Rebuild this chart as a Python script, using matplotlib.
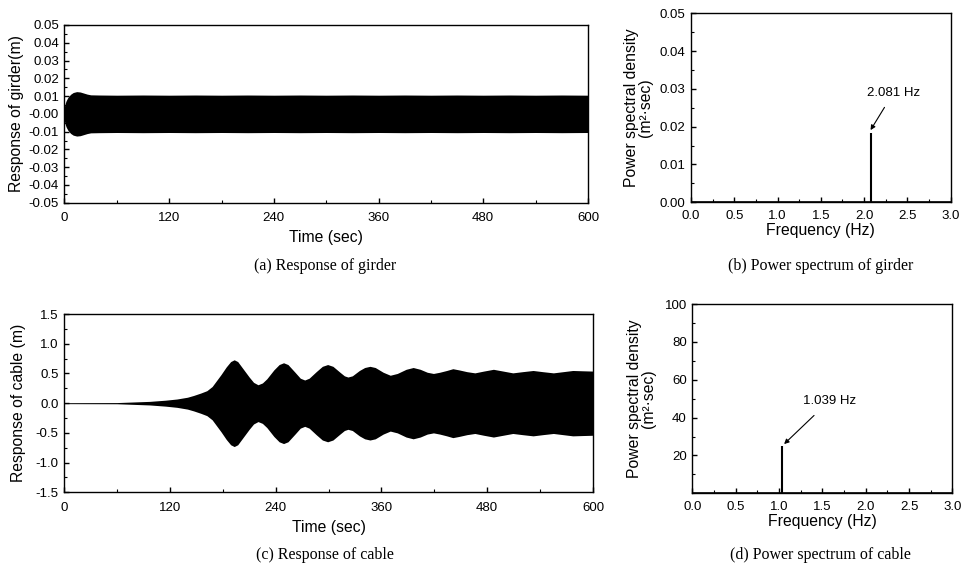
import numpy as np
import matplotlib
matplotlib.use("Agg")
import matplotlib.pyplot as plt
from matplotlib.ticker import MultipleLocator, FormatStrFormatter

plt.rcParams['font.family'] = ['Liberation Sans', 'DejaVu Sans']
plt.rcParams['axes.unicode_minus'] = False

# girder response envelope (upper edge, band is symmetric)
girder_t = [0, 1, 2, 4, 7, 10, 14, 18, 22, 26, 30, 40, 60, 90, 120, 150, 180, 210, 240,
            270, 300, 330, 360, 390, 420, 450, 480, 510, 540, 570, 600]
girder_amp = [0.0042, 0.0062, 0.0075, 0.0093, 0.0110, 0.0120, 0.0125, 0.0123, 0.0117,
              0.0111, 0.0107, 0.0106, 0.0105, 0.0106, 0.0105, 0.0106, 0.0105, 0.0106,
              0.0105, 0.0106, 0.0105, 0.0106, 0.0105, 0.0106, 0.0105, 0.0106, 0.0105,
              0.0106, 0.0105, 0.0106, 0.0105]

# cable response envelope (upper edge)
cable_t = [0, 60, 97, 115, 128, 140, 147, 155, 162, 168, 173, 178, 184, 189, 193, 197,
           203, 210, 215, 220, 225, 230, 238, 244, 249, 254, 262, 268, 273, 278, 286,
           293, 299, 305, 313, 318, 322, 327, 335, 341, 347, 353, 362, 370, 378, 388,
           396, 404, 412, 419, 426, 434, 441, 448, 457, 466, 476, 487, 498, 509, 520,
           532, 543, 555, 566, 577, 588, 600]
cable_amp = [0.008, 0.01, 0.03, 0.05, 0.07, 0.10, 0.13, 0.17, 0.21, 0.28, 0.38, 0.48,
             0.61, 0.70, 0.73, 0.70, 0.58, 0.44, 0.35, 0.31, 0.34, 0.41, 0.56, 0.65,
             0.68, 0.65, 0.52, 0.42, 0.39, 0.42, 0.53, 0.62, 0.65, 0.62, 0.52, 0.46,
             0.44, 0.46, 0.55, 0.60, 0.62, 0.60, 0.52, 0.47, 0.50, 0.57, 0.60, 0.57,
             0.52, 0.50, 0.52, 0.55, 0.58, 0.56, 0.53, 0.51, 0.54, 0.57, 0.54, 0.51,
             0.53, 0.55, 0.53, 0.51, 0.53, 0.55, 0.545, 0.54]

# spectral peaks
girder_peak_freq = 2.081
girder_peak_psd = 0.0183
cable_peak_freq = 1.039
cable_peak_psd = 25.0

time_ticks = [0, 120, 240, 360, 480, 600]
freq_ticks = [0.0, 0.5, 1.0, 1.5, 2.0, 2.5, 3.0]

TICK_FS = 9.5
LABEL_FS = 11.3

fig = plt.figure(figsize=(9.61, 5.76), dpi=100)
ax_a = fig.add_axes([0.0671, 0.6481, 0.5447, 0.3085])
ax_b = fig.add_axes([0.7190, 0.6488, 0.2702, 0.3281])
ax_c = fig.add_axes([0.0666, 0.1453, 0.5505, 0.3095])
ax_d = fig.add_axes([0.7204, 0.1436, 0.2706, 0.3286])


def style(ax, xpad):
    for s in ax.spines.values():
        s.set_linewidth(1.0)
    ax.tick_params(which='both', direction='in', top=False, right=False, labelsize=TICK_FS)
    ax.tick_params(which='major', length=3.5, width=1.0)
    ax.tick_params(which='minor', length=2, width=0.8)
    ax.tick_params(axis='y', which='major', pad=4)
    ax.tick_params(axis='x', which='major', pad=xpad)


# (a) girder response
ga = np.array(girder_amp)
ax_a.fill_between(girder_t, -ga, ga, color='black', lw=0)
ax_a.set_xlim(0, 600)
ax_a.set_ylim(-0.05, 0.05)
ax_a.set_xticks(time_ticks)
ax_a.xaxis.set_minor_locator(MultipleLocator(60))
ax_a.yaxis.set_major_locator(MultipleLocator(0.01))
ax_a.yaxis.set_minor_locator(MultipleLocator(0.005))
ax_a.yaxis.set_major_formatter(FormatStrFormatter('%.2f'))
ax_a.set_xlabel('Time (sec)', fontsize=LABEL_FS, labelpad=4)
ax_a.set_ylabel('Response of girder(m)', fontsize=LABEL_FS, labelpad=3)
style(ax_a, 7)

# (b) girder spectrum
ax_b.plot([0, 3.0], [0, 0], color='black', lw=1.2)
ax_b.vlines(girder_peak_freq, 0, girder_peak_psd, color='black', lw=1.5)
ax_b.set_xlim(0, 3.0)
ax_b.set_ylim(0, 0.05)
ax_b.set_xticks(freq_ticks)
ax_b.xaxis.set_minor_locator(MultipleLocator(0.25))
ax_b.yaxis.set_major_locator(MultipleLocator(0.01))
ax_b.yaxis.set_minor_locator(MultipleLocator(0.005))
ax_b.xaxis.set_major_formatter(FormatStrFormatter('%.1f'))
ax_b.yaxis.set_major_formatter(FormatStrFormatter('%.2f'))
ax_b.set_xlabel('Frequency (Hz)', fontsize=LABEL_FS, labelpad=0.5)
ax_b.set_ylabel('Power spectral density\n(m²·sec)', fontsize=LABEL_FS, labelpad=4.5,
                linespacing=0.95)
ax_b.annotate('%.3f Hz' % girder_peak_freq, xy=(girder_peak_freq - 0.006, girder_peak_psd + 0.0008),
              xytext=(2.34, 0.029), ha='center', va='center', fontsize=TICK_FS,
              arrowprops=dict(arrowstyle='-|>', color='black', lw=0.8,
                              mutation_scale=7, shrinkA=5, shrinkB=0))
style(ax_b, 5.5)

# (c) cable response
ca = np.array(cable_amp)
ax_c.fill_between(cable_t, -ca, ca, color='black', lw=0)
ax_c.set_xlim(0, 600)
ax_c.set_ylim(-1.5, 1.5)
ax_c.set_xticks(time_ticks)
ax_c.xaxis.set_minor_locator(MultipleLocator(60))
ax_c.yaxis.set_major_locator(MultipleLocator(0.5))
ax_c.yaxis.set_minor_locator(MultipleLocator(0.25))
ax_c.yaxis.set_major_formatter(FormatStrFormatter('%.1f'))
ax_c.set_xlabel('Time (sec)', fontsize=LABEL_FS, labelpad=4)
ax_c.set_ylabel('Response of cable (m)', fontsize=LABEL_FS, labelpad=7)
style(ax_c, 7)

# (d) cable spectrum
ax_d.plot([0, 3.0], [0, 0], color='black', lw=1.2)
ax_d.vlines(cable_peak_freq, 0, cable_peak_psd, color='black', lw=1.5)
ax_d.set_xlim(0, 3.0)
ax_d.set_ylim(0, 100)
ax_d.set_xticks(freq_ticks)
ax_d.set_yticks([20, 40, 60, 80, 100])
ax_d.xaxis.set_minor_locator(MultipleLocator(0.25))
ax_d.yaxis.set_minor_locator(MultipleLocator(10))
ax_d.xaxis.set_major_formatter(FormatStrFormatter('%.1f'))
ax_d.set_xlabel('Frequency (Hz)', fontsize=LABEL_FS, labelpad=0.5)
ax_d.set_ylabel('Power spectral density\n(m²·sec)', fontsize=LABEL_FS, labelpad=6,
                linespacing=0.95)
ax_d.annotate('%.3f Hz' % cable_peak_freq, xy=(cable_peak_freq + 0.02, cable_peak_psd + 1),
              xytext=(1.58, 48.8), ha='center', va='center', fontsize=TICK_FS,
              arrowprops=dict(arrowstyle='-|>', color='black', lw=0.8,
                              mutation_scale=7, shrinkA=6, shrinkB=0))
style(ax_d, 5.5)

# sub-figure captions
cap = dict(ha='center', va='center', fontsize=11.5, family='Liberation Serif')
fig.text(0.338, 0.538, '(a) Response of girder', **cap)
fig.text(0.854, 0.538, '(b) Power spectrum of girder', **cap)
fig.text(0.338, 0.036, '(c) Response of cable', **cap)
fig.text(0.854, 0.036, '(d) Power spectrum of cable', **cap)

fig.savefig('out.png', dpi=100)
